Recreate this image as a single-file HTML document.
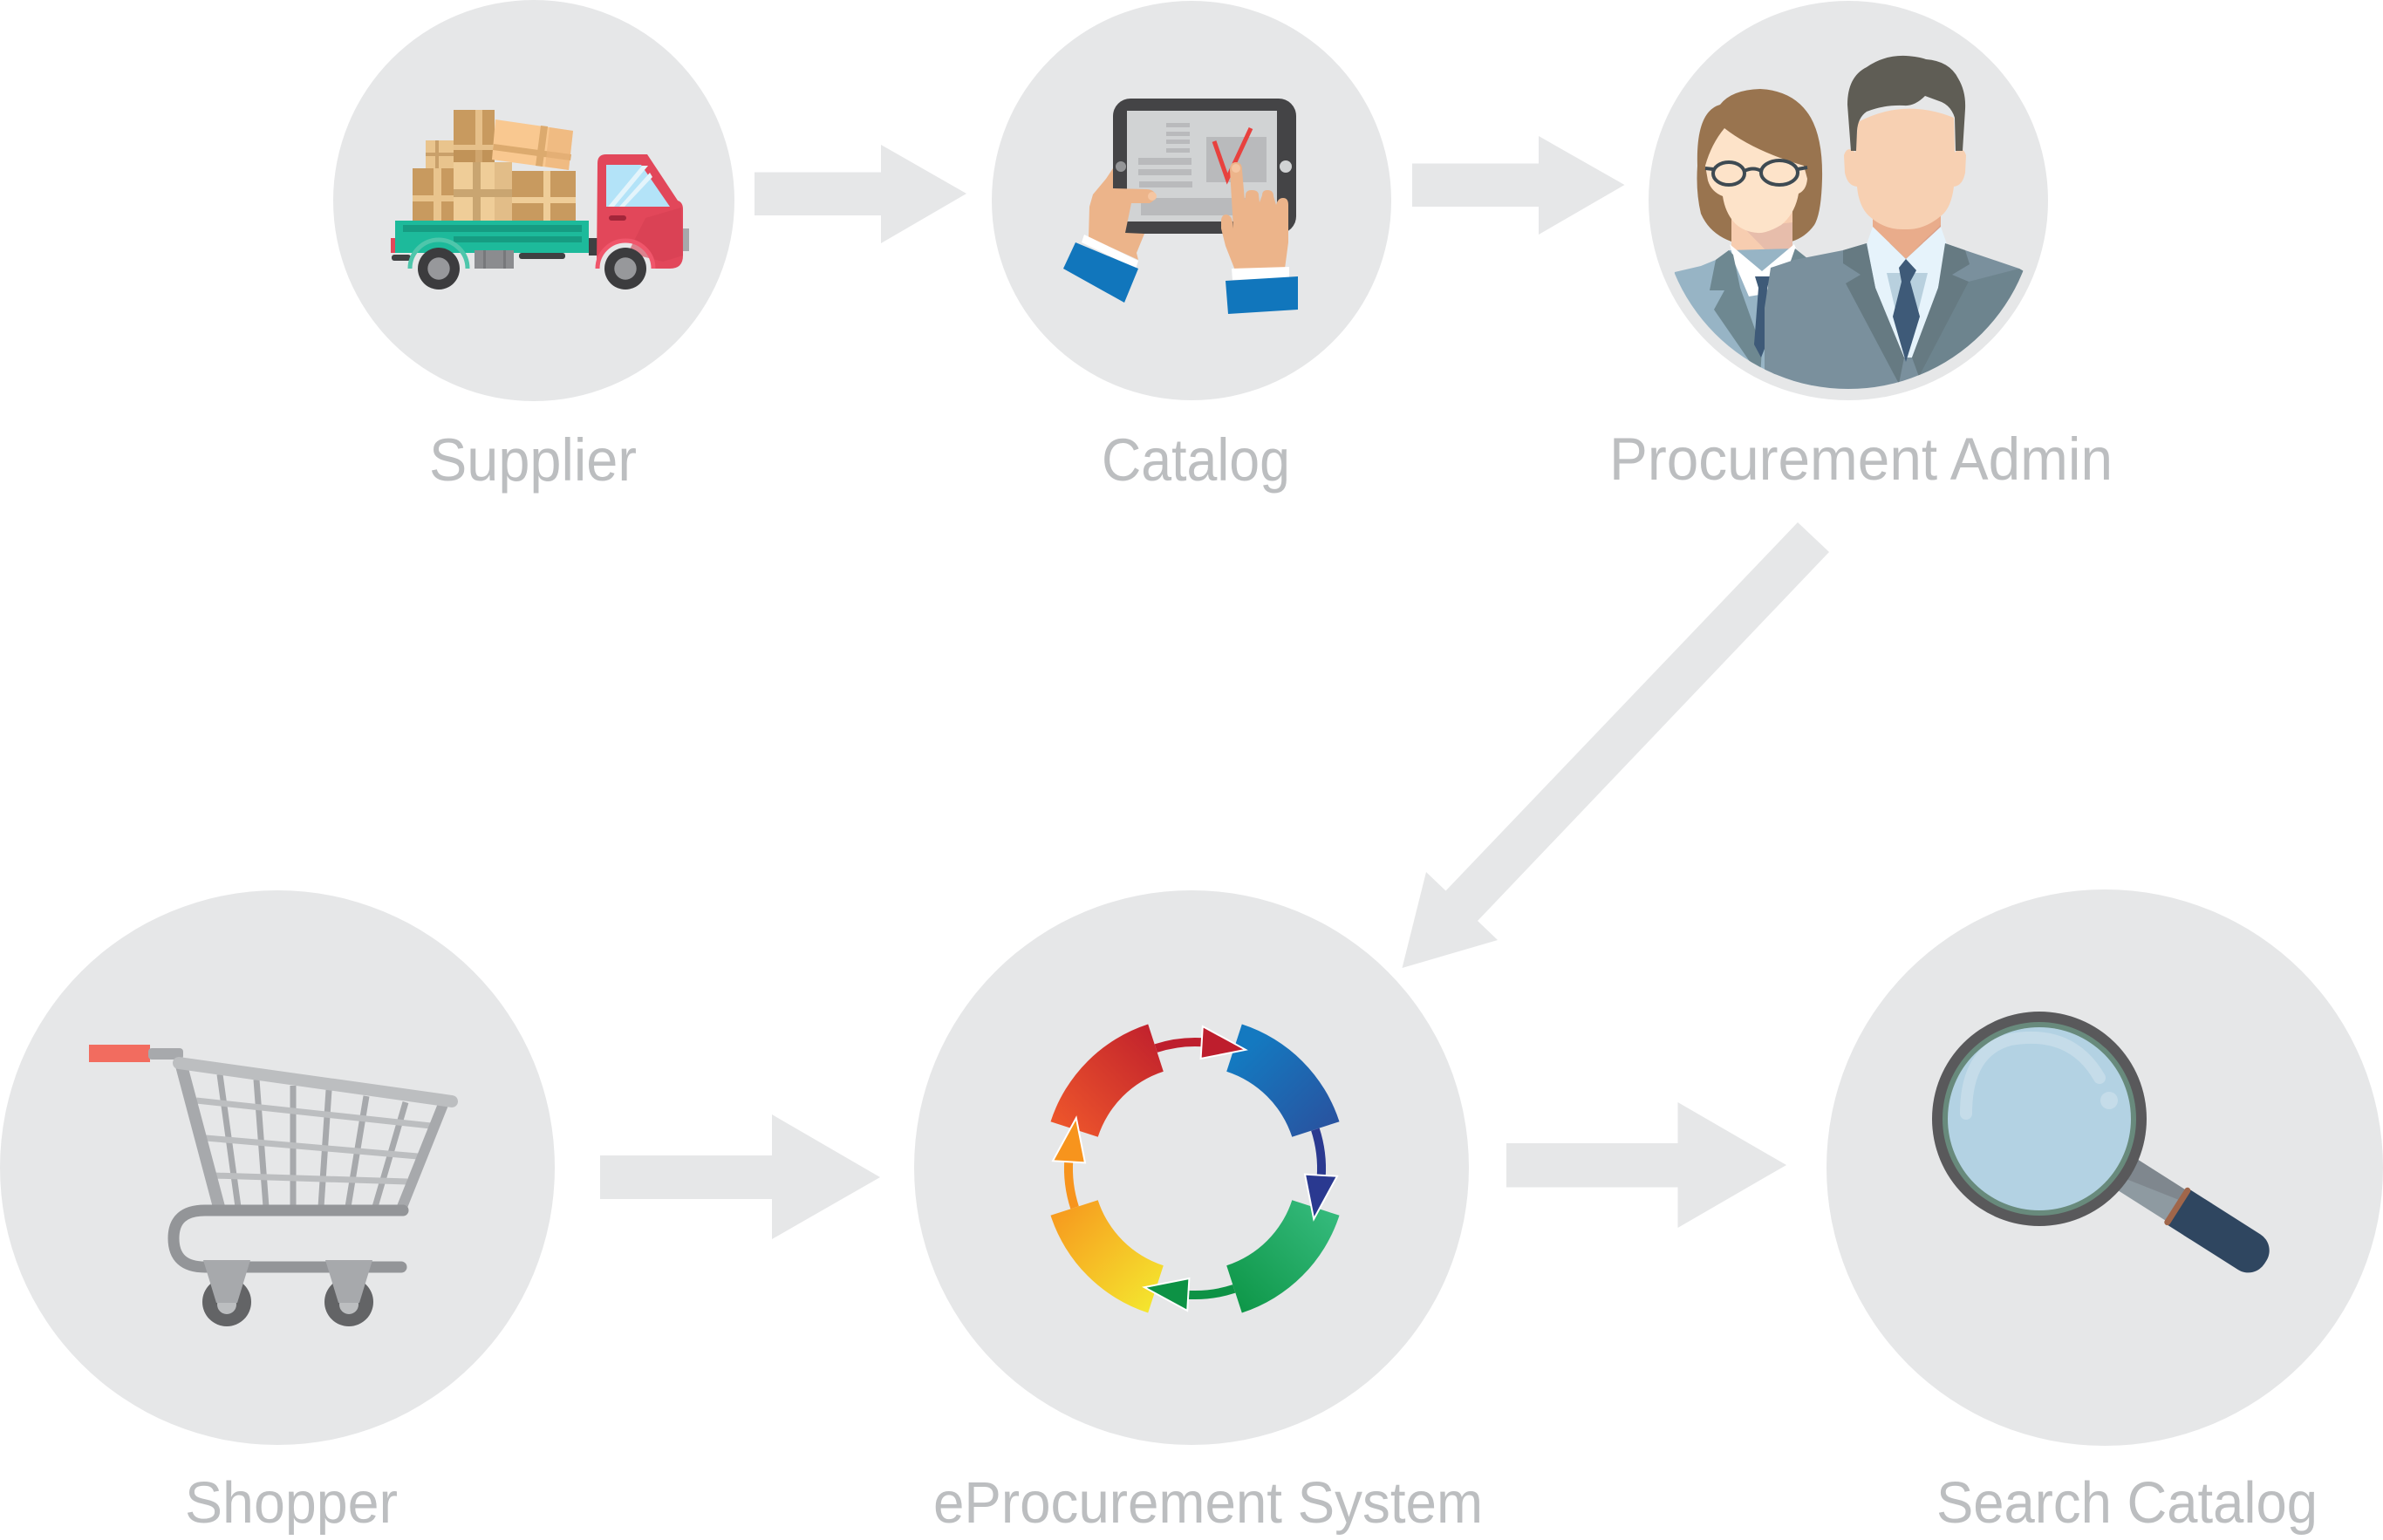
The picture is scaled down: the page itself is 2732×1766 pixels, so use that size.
<!DOCTYPE html>
<html><head><meta charset="utf-8"><style>
html,body{margin:0;padding:0;background:#fff;}
svg{display:block;}
text{font-family:"Liberation Sans",Arial,sans-serif;fill:#bcbec0;}
</style></head><body>
<svg width="2732" height="1766" viewBox="0 0 2732 1766" xmlns="http://www.w3.org/2000/svg">
<defs>
<linearGradient id="gTL" x1="0" y1="1" x2="1" y2="0"><stop offset="0" stop-color="#f15a2b"/><stop offset="1" stop-color="#be1e2d"/></linearGradient>
<linearGradient id="gTR" x1="0" y1="0" x2="1" y2="1"><stop offset="0.2" stop-color="#1479c0"/><stop offset="1" stop-color="#2b4f9c"/></linearGradient>
<linearGradient id="gBR" x1="1" y1="0" x2="0" y2="1"><stop offset="0.1" stop-color="#34b97b"/><stop offset="1" stop-color="#0b9444"/></linearGradient>
<linearGradient id="gBL" x1="0" y1="0" x2="1" y2="1"><stop offset="0" stop-color="#f7941d"/><stop offset="1" stop-color="#f4ec30"/></linearGradient>
<clipPath id="pc"><circle cx="2119" cy="230" r="216"/></clipPath>
</defs>
<rect width="2732" height="1766" fill="#fff"/>

<!-- circles -->
<g fill="#e6e7e8">
<circle cx="612" cy="230" r="230"/>
<circle cx="1366" cy="230" r="229"/>
<circle cx="2119" cy="230" r="229"/>
<circle cx="318" cy="1339" r="318"/>
<circle cx="1366" cy="1339" r="318"/>
<circle cx="2413" cy="1339" r="319"/>
</g>

<!-- arrows -->
<g fill="#e6e7e8">
<polygon points="865,197.5 1010,197.5 1010,166 1108,222 1010,279 1010,247 865,247"/>
<polygon points="1619,187.5 1764,187.5 1764,156 1862.5,212 1764,269 1764,237 1619,237"/>
<polygon points="688,1325 885,1325 885,1278 1009,1350 885,1421 885,1375 688,1375"/>
<polygon points="1727,1311 1923.5,1311 1923.5,1264 2048,1336 1923.5,1408 1923.5,1361.5 1727,1361.5"/>
<polygon points="2061,599 2097,633 1694,1056 1717,1078 1607.5,1110 1635,1000 1657.5,1021.5"/>
</g>

<!-- TRUCK -->
<g>
<!-- boxes -->
<rect x="520" y="126" width="47" height="60" fill="#c89a5f"/>
<rect x="545" y="126" width="8" height="60" fill="#e6c08a"/>
<rect x="520" y="166" width="47" height="6" fill="#e6c08a"/>
<rect x="520" y="172" width="47" height="14" fill="#b98b52" opacity="0.5"/>
<rect x="488" y="161" width="32" height="32" fill="#e9c48d"/>
<rect x="499" y="161" width="4" height="32" fill="#c9a06a"/>
<rect x="488" y="175" width="32" height="4" fill="#c9a06a"/>
<rect x="473" y="193" width="47" height="60" fill="#c89a5f"/>
<rect x="497" y="193" width="9" height="60" fill="#e9c48d"/>
<rect x="473" y="224" width="47" height="7" fill="#e9c48d"/>
<rect x="520" y="186" width="67" height="67" fill="#efcd98"/>
<rect x="567" y="186" width="20" height="67" fill="#e2bd88"/>
<rect x="542" y="186" width="9" height="67" fill="#c9a571"/>
<rect x="520" y="217" width="67" height="9" fill="#c9a571"/>
<rect x="587" y="196" width="73" height="57" fill="#c89a5f"/>
<rect x="623" y="196" width="8" height="57" fill="#efcd98"/>
<rect x="587" y="226" width="73" height="7" fill="#efcd98"/>
<polygon points="568,137 657,150 652,195 564,183" fill="#f9c890"/>
<polygon points="566,165 655,177 654,184 565,172" fill="#dcaa6e"/>
<polygon points="620,144 628,145 622,191 614,190" fill="#dcaa6e"/>
<polygon points="630,146 657,150 652,195 625,191" fill="#e9b27a" opacity="0.6"/>
<!-- bed -->
<rect x="453" y="253" width="222" height="37" fill="#1dba9b"/>
<rect x="462" y="258" width="205" height="8" fill="#169c82"/>
<rect x="520" y="271" width="147" height="7" fill="#169c82"/>
<rect x="448" y="273" width="5" height="17" fill="#e2475a"/>
<rect x="449" y="292" width="22" height="7" rx="3" fill="#3f4042"/>
<rect x="595" y="290" width="53" height="7" rx="3" fill="#3f4042"/>
<rect x="544" y="287" width="45" height="21" fill="#8b8c8f"/>
<rect x="554" y="287" width="3" height="21" fill="#77787b"/>
<rect x="577" y="287" width="3" height="21" fill="#77787b"/>
<rect x="675" y="273" width="11" height="20" fill="#3f4042"/>
<path d="M470,308 A33,33 0 0 1 536,308" fill="none" stroke="#4ec6ab" stroke-width="5"/>
<!-- cab -->
<path d="M685,187 Q685,177 695,177 L742,177 L777,230 Q783,232 783,240 L783,293 Q783,308 768,308 L750,308 A33,33 0 0 0 684,308 Z" fill="#e2475a"/>
<polygon points="740,250 781,238 783,293 760,300 720,290" fill="#d63f52" opacity="0.6"/>
<polygon points="695,189 735,189 768,237 695,237" fill="#b3e3f8"/>
<polygon points="697,237 736,190 743,190 704,237" fill="#e3f4fb"/>
<polygon points="710,237 745,198 748,203 716,237" fill="#e3f4fb"/>
<rect x="698" y="247" width="20" height="6" rx="3" fill="#a3263a"/>
<rect x="783" y="262" width="7" height="26" fill="#a7a9ac"/>
<path d="M685,308 A32,32 0 0 1 749,308" fill="none" stroke="#f0566b" stroke-width="5"/>
<!-- wheels -->
<circle cx="503" cy="308" r="24" fill="#3c3c3e"/>
<circle cx="503" cy="308" r="12.7" fill="#97989b"/>
<circle cx="717" cy="308" r="24" fill="#3c3c3e"/>
<circle cx="717" cy="308" r="12.7" fill="#97989b"/>
</g>

<!-- TABLET -->
<g>
<rect x="1276" y="113" width="210" height="155" rx="20" fill="#444446"/>
<rect x="1292" y="127" width="172" height="127" fill="#d1d3d4"/>
<circle cx="1285" cy="191" r="6" fill="#949597"/>
<circle cx="1474" cy="191" r="7" fill="#d1d3d4"/>
<g fill="#b9babc">
<rect x="1337" y="141" width="27" height="5"/>
<rect x="1337" y="151" width="27" height="5"/>
<rect x="1337" y="160" width="27" height="5"/>
<rect x="1337" y="170" width="27" height="5"/>
<rect x="1305" y="181" width="61" height="8"/>
<rect x="1305" y="194" width="61" height="7"/>
<rect x="1306" y="208" width="61" height="7"/>
<rect x="1383" y="157" width="69" height="52"/>
<rect x="1308" y="227" width="135" height="20"/>
</g>
<polyline points="1392,162 1407,205 1434,147" fill="none" stroke="#e8413e" stroke-width="5"/>
<!-- left hand -->
<path d="M1276,193 L1268,205 L1253,223 L1249,237 L1248,272 L1305,298 L1303,290 L1312,268 L1290,267 L1297,233 L1318,233 Q1326,229 1325,223 Q1322,217 1314,217 L1276,216 Z" fill="#ecb48a"/>
<circle cx="1321" cy="225" r="5" fill="#f5c6a2"/>
<polygon points="1243,269 1305,299 1302,308 1240,278" fill="#fff"/>
<polygon points="1233,278 1305,308 1289,347 1219,308" fill="#1176bc"/>
<!-- right hand -->
<path d="M1410,195 Q1410,186 1417,186 Q1424,186 1424,195 L1427,230 L1428,224 Q1428,218 1435,218 Q1443,218 1443,224 L1444,232 L1447,224 Q1447,218 1453,218 Q1460,218 1460,225 L1463,235 Q1465,227 1471,227 Q1477,227 1477,235 L1477,278 L1473,308 L1416,310 L1405,282 L1400,262 L1400,252 Q1401,246 1406,246 Q1412,247 1413,255 L1414,262 Z" fill="#ecb48a"/>
<circle cx="1417" cy="193" r="5" fill="#f5c6a2"/>
<polygon points="1412,308 1478,306 1478,319 1413,321" fill="#fff"/>
<polygon points="1405,322 1488,317 1488,355 1408,360" fill="#1176bc"/>
</g>

<!-- PEOPLE -->
<g clip-path="url(#pc)">
<!-- woman -->
<path d="M1946,190 Q1944,128 1972,120 Q1985,103 2018,102 Q2058,104 2076,135 Q2090,160 2089,205 Q2088,245 2080,258 Q2070,272 2054,277 L2052,250 L1986,250 L1985,277 Q1960,268 1950,245 Q1944,220 1946,190 Z" fill="#99744f"/>
<rect x="1985" y="240" width="70" height="55" fill="#f7cdb0"/>
<polygon points="2000,262 2055,255 2055,285 2037,300" fill="#e7bdab"/>
<path d="M1977,147 Q2010,173 2068,190 L2072,205 Q2071,218 2062,222 Q2058,245 2042,258 Q2025,268 2015,267 Q2000,266 1990,257 Q1978,245 1975,225 Q1962,220 1958,207 L1955,190 Q1962,165 1977,147 Z" fill="#fde3c9"/>
<g fill="none" stroke="#3e4a52" stroke-width="4">
<ellipse cx="1982" cy="199" rx="18" ry="13"/>
<ellipse cx="2040" cy="198" rx="21" ry="14"/>
<path d="M2000,196 Q2010,191 2019,196"/>
<path d="M1955,193 L1964,194 M2061,194 L2072,192"/>
</g>
<polygon points="1920,312 1950,305 1967,298 1982,287 2058,285 2070,297 2078,302 2078,480 1890,480" fill="#97b4c5"/>
<polygon points="1983,280 2020,311 2057,280 2062,292 2035,335 2005,340 1988,300" fill="#fff"/>
<polygon points="1982,287 1967,298 1960,333 1977,333 1965,355 2018,432 2020,400 1995,330 1987,292" fill="#6e8891"/>
<polygon points="2058,285 2073,297 2065,305 2045,322" fill="#6e8891"/>
<polygon points="2012,317 2030,317 2026,330 2016,330" fill="#3e5a78"/>
<polygon points="2016,330 2026,330 2025,395 2019,410 2011,395" fill="#3e5a78"/>
<!-- man -->
<polygon points="2023,480 2023,353 2030,307 2057,298 2113,287 2140,279 2230,279 2253,287 2315,308 2345,330 2345,480" fill="#7a909d"/>
<polygon points="2257,323 2315,308 2345,325 2345,480 2190,480 2200,432" fill="#6d848e"/>
<polygon points="2147,235 2225,235 2225,260 2185,297 2147,260" fill="#e9ac8b"/>
<polygon points="2195,286 2225,258 2225,262" fill="#dba08a"/>
<polygon points="2147,260 2185,297 2225,260 2232,280 2222,330 2192,410 2183,410 2150,330 2140,280" fill="#e6f3fb"/>
<polygon points="2163,313 2210,313 2192,385 2180,385" fill="#b8d0de"/>
<polygon points="2140,279 2113,287 2113,302 2133,315 2116,325 2177,440 2183,410 2150,330" fill="#667a82"/>
<polygon points="2230,279 2253,287 2258,303 2238,315 2257,323 2200,432 2192,410 2222,330" fill="#667a82"/>
<polygon points="2185,297 2177,307 2180,323 2190,323 2197,310" fill="#3e5a78"/>
<polygon points="2180,323 2190,323 2201,363 2185,415 2170,363" fill="#3e5a78"/>
<path d="M2130,140 Q2183,112 2240,135 L2241,175 Q2250,166 2254,178 L2253,198 Q2250,213 2240,214 Q2237,238 2226,247 Q2206,264 2184,263 Q2160,264 2142,247 Q2131,236 2129,214 Q2118,213 2115,198 L2114,178 Q2118,166 2127,175 Z" fill="#f7d0b2"/>
<path d="M2122,173 L2118,120 Q2118,88 2140,77 Q2160,63 2185,64 Q2200,65 2208,68 Q2235,70 2245,90 Q2254,105 2253,125 L2250,173 L2242,173 L2241,135 Q2237,122 2226,117 L2207,110 Q2195,122 2183,121 Q2160,120 2140,128 Q2130,135 2129,150 L2128,173 Z" fill="#5f5d55"/>
</g>

<!-- CART -->
<g stroke-linecap="round">
<rect x="102" y="1198" width="70" height="20" fill="#f26c5f"/>
<rect x="170" y="1202" width="40" height="13" rx="4" fill="#a7a9ac"/>
<g stroke="#a7a9ac" stroke-width="7" fill="none" stroke-linecap="butt">
<line x1="252" y1="1232" x2="273" y2="1384"/>
<line x1="294" y1="1238" x2="305" y2="1384"/>
<line x1="336" y1="1245" x2="336" y2="1384"/>
<line x1="377" y1="1250" x2="368" y2="1384"/>
<line x1="420" y1="1257" x2="399" y2="1384"/>
<line x1="465" y1="1264" x2="430" y2="1384"/>
</g>
<g stroke="#bcbec0" stroke-width="7" fill="none" stroke-linecap="butt">
<line x1="225" y1="1262" x2="494" y2="1291"/>
<line x1="236" y1="1305" x2="479" y2="1326"/>
<line x1="245" y1="1348" x2="467" y2="1355"/>
</g>
<line x1="208" y1="1222" x2="251" y2="1384" stroke="#a7a9ac" stroke-width="14" stroke-linecap="butt"/>
<line x1="509" y1="1264" x2="461" y2="1384" stroke="#a7a9ac" stroke-width="12" stroke-linecap="butt"/>
<line x1="205" y1="1219" x2="518" y2="1263" stroke="#bcbec0" stroke-width="14"/>
<path d="M462,1388 L235,1388 Q199,1388 199,1420 Q199,1453 235,1453 L460,1453" fill="none" stroke="#939598" stroke-width="13"/>
<circle cx="260" cy="1493" r="28" fill="#636466"/>
<circle cx="400" cy="1493" r="28" fill="#636466"/>
<circle cx="260" cy="1496" r="11" fill="#bcbec0"/>
<circle cx="400" cy="1496" r="11" fill="#bcbec0"/>
<polygon points="233,1445 287,1445 272,1494 248,1494" fill="#a7a9ac"/>
<polygon points="373,1445 427,1445 412,1494 388,1494" fill="#a7a9ac"/>
</g>

<!-- CYCLE -->
<g>
<path d="M1204.5,1286.2 A174,174 0 0 1 1316.2,1174.5 L1333.8,1228.7 A117,117 0 0 0 1258.7,1303.8 Z" fill="url(#gTL)"/>
<path d="M1423.8,1174.5 A174,174 0 0 1 1535.5,1286.2 L1481.3,1303.8 A117,117 0 0 0 1406.2,1228.7 Z" fill="url(#gTR)"/>
<path d="M1535.5,1393.8 A174,174 0 0 1 1423.8,1505.5 L1406.2,1451.3 A117,117 0 0 0 1481.3,1376.2 Z" fill="url(#gBR)"/>
<path d="M1316.2,1505.5 A174,174 0 0 1 1204.5,1393.8 L1258.7,1376.2 A117,117 0 0 0 1333.8,1451.3 Z" fill="url(#gBL)"/>
<g id="arr">
<path d="M1325.2,1202.1 A145,145 0 0 1 1380.1,1195.3" fill="none" stroke="#be1e2d" stroke-width="10"/>
<polygon points="1376.6,1214 1378.8,1177 1428,1203.8" fill="#be1e2d" stroke="#fff" stroke-width="2"/>
</g>
<g transform="rotate(90 1370 1340)">
<path d="M1325.2,1202.1 A145,145 0 0 1 1380.1,1195.3" fill="none" stroke="#2a3990" stroke-width="10"/>
<polygon points="1376.6,1214 1378.8,1177 1428,1203.8" fill="#2a3990" stroke="#fff" stroke-width="2"/>
</g>
<g transform="rotate(180 1370 1340)">
<path d="M1325.2,1202.1 A145,145 0 0 1 1380.1,1195.3" fill="none" stroke="#0d9245" stroke-width="10"/>
<polygon points="1376.6,1214 1378.8,1177 1428,1203.8" fill="#0d9245" stroke="#fff" stroke-width="2"/>
</g>
<g transform="rotate(270 1370 1340)">
<path d="M1325.2,1202.1 A145,145 0 0 1 1380.1,1195.3" fill="none" stroke="#f7941d" stroke-width="10"/>
<polygon points="1376.6,1214 1378.8,1177 1428,1203.8" fill="#f7941d" stroke="#fff" stroke-width="2"/>
</g>
</g>

<!-- MAGNIFIER -->
<g>
<g transform="translate(2338 1283) rotate(32.4)">
<rect x="105" y="-21" width="84" height="42" fill="#8e9aa1"/>
<polygon points="105,-21 189,-21 189,-8 105,8" fill="#7f878e"/>
<rect x="190" y="-24" width="117" height="48" rx="22" fill="#2f4660"/>
<rect x="190" y="-24" width="30" height="48" fill="#2f4660"/>
<rect x="184" y="-25" width="7" height="50" rx="3.5" fill="#a0664a"/>
</g>
<circle cx="2338" cy="1283" r="123" fill="#59595b"/>
<circle cx="2338" cy="1283" r="111" fill="#688a7c"/>
<circle cx="2338" cy="1283" r="105" fill="#b3d2e3"/>
<path d="M2254,1277 Q2254,1205 2305,1192 Q2375,1180 2407,1236" fill="none" stroke="#c5dce9" stroke-width="14" stroke-linecap="round"/>
<circle cx="2418" cy="1262" r="10" fill="#c5dce9"/>
</g>

<!-- LABELS -->
<text x="492" y="551" font-size="69" textLength="238" lengthAdjust="spacingAndGlyphs">Supplier</text>
<text x="1263" y="551" font-size="69" textLength="216" lengthAdjust="spacingAndGlyphs">Catalog</text>
<text x="1845" y="550" font-size="69" textLength="577" lengthAdjust="spacingAndGlyphs">Procurement Admin</text>
<text x="212" y="1746" font-size="67" textLength="244" lengthAdjust="spacingAndGlyphs">Shopper</text>
<text x="1070" y="1746" font-size="67" textLength="630" lengthAdjust="spacingAndGlyphs">eProcurement System</text>
<text x="2220" y="1746" font-size="67" textLength="437" lengthAdjust="spacingAndGlyphs">Search Catalog</text>
</svg>
</body></html>
